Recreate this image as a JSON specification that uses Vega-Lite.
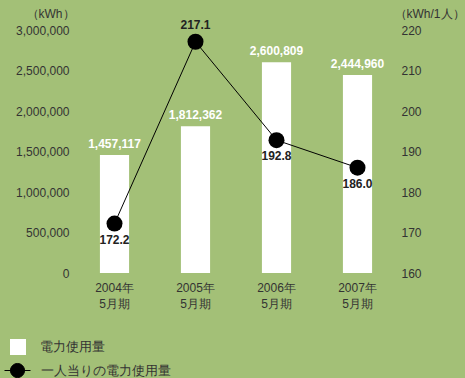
{
  "$schema": "https://vega.github.io/schema/vega-lite/v6.json",
  "width": 324,
  "height": 243,
  "autosize": {"type": "none"},
  "padding": {"left": 74, "top": 30, "right": 67, "bottom": 105},
  "background": "#a3c077",
  "config": {
    "view": {"stroke": null},
    "font": "Liberation Sans",
    "axis": {"domain": false, "ticks": false, "grid": false, "labelFont": "Liberation Sans", "labelFontSize": 12, "labelColor": "#333333", "titleFont": "Liberation Sans", "titleFontSize": 12, "titleFontWeight": "normal", "titleColor": "#333333"},
    "legend": {"labelFont": "Liberation Sans", "labelFontSize": 12.5, "labelColor": "#333333", "padding": 0}
  },
  "data": {
    "values": [
      {"period": "2004年 5月期", "kwh": 1457117, "per": 172.2, "pos": "below"},
      {"period": "2005年 5月期", "kwh": 1812362, "per": 217.1, "pos": "above"},
      {"period": "2006年 5月期", "kwh": 2600809, "per": 192.8, "pos": "below"},
      {"period": "2007年 5月期", "kwh": 2444960, "per": 186.0, "pos": "below"}
    ]
  },
  "encoding": {
    "x": {
      "field": "period", "type": "nominal", "sort": null,
      "scale": {"paddingInner": 0.64, "paddingOuter": 0.32},
      "axis": {"title": null, "labelAngle": 0, "labelExpr": "split(datum.label, ' ')", "labelBaseline": "top", "labelPadding": 9, "labelLineHeight": 16}
    }
  },
  "layer": [
    {
      "encoding": {
        "y": {
          "field": "kwh", "type": "quantitative",
          "scale": {"domain": [0, 3000000], "nice": false},
          "axis": {"values": [0, 500000, 1000000, 1500000, 2000000, 2500000, 3000000], "format": ",d", "labelPadding": 5, "title": "（kWh）", "titleAngle": 0, "titleX": -24, "titleY": -17, "titleAlign": "center", "titleBaseline": "middle"}
        }
      },
      "layer": [
        {
          "mark": {"type": "bar"},
          "encoding": {
            "fill": {"datum": "電力使用量", "type": "nominal", "scale": {"range": ["white"]},
              "legend": {"title": null, "orient": "none", "legendX": -64, "legendY": 309, "symbolType": "square", "symbolSize": 256, "symbolStrokeWidth": 0, "labelOffset": 14}}
          }
        },
        {
          "mark": {"type": "text", "baseline": "bottom", "dy": -4, "fontWeight": "bold", "fontSize": 12, "color": "white", "font": "Liberation Sans"},
          "encoding": {"text": {"field": "kwh", "type": "quantitative", "format": ","}}
        }
      ]
    },
    {
      "encoding": {
        "y": {
          "field": "per", "type": "quantitative",
          "scale": {"domain": [160, 220], "nice": false},
          "axis": {"orient": "right", "values": [160, 170, 180, 190, 200, 210, 220], "labelPadding": 3, "title": "（kWh/1人）", "titleAngle": 0, "titleX": 31, "titleY": -17, "titleAlign": "center", "titleBaseline": "middle"}
        }
      },
      "layer": [
        {
          "mark": {"type": "line", "strokeWidth": 1},
          "encoding": {
            "stroke": {"datum": "一人当りの電力使用量", "type": "nominal", "scale": {"range": ["black"]},
              "legend": {"title": null, "orient": "none", "legendX": -70, "legendY": 327, "symbolType": "M-1,0H1M-0.54,0A0.54,0.54,0,1,1,0.54,0A0.54,0.54,0,1,1,-0.54,0Z", "symbolSize": 676, "symbolFillColor": "black", "symbolStrokeColor": "black", "symbolStrokeWidth": 1, "labelOffset": 10}}
          }
        },
        {
          "mark": {"type": "point", "filled": true, "size": 256, "color": "black", "opacity": 1}
        },
        {
          "transform": [{"filter": "datum.pos == 'above'"}],
          "mark": {"type": "text", "baseline": "middle", "dy": -17, "fontWeight": "bold", "fontSize": 12, "color": "#222222", "font": "Liberation Sans"},
          "encoding": {"text": {"field": "per", "type": "quantitative", "format": ".1f"}}
        },
        {
          "transform": [{"filter": "datum.pos == 'below'"}],
          "mark": {"type": "text", "baseline": "middle", "dy": 16, "fontWeight": "bold", "fontSize": 12, "color": "#222222", "font": "Liberation Sans"},
          "encoding": {"text": {"field": "per", "type": "quantitative", "format": ".1f"}}
        }
      ]
    }
  ],
  "resolve": {"scale": {"y": "independent"}}
}
